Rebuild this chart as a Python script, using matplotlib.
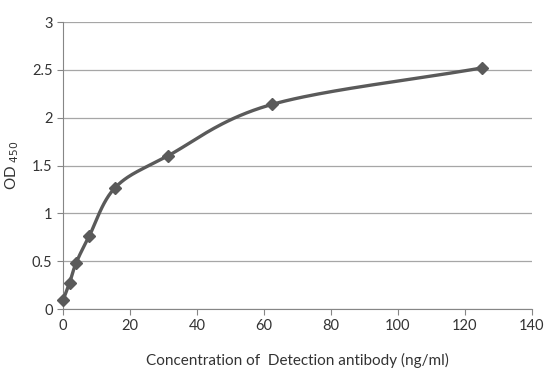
import numpy as np
import matplotlib.pyplot as plt

plt.rcParams['font.family'] = ['Lato', 'DejaVu Sans']

# 数据
conc = [0, 1.95, 3.9, 7.8, 15.6, 31.25, 62.5, 125]
od = [0.09, 0.27, 0.48, 0.76, 1.27, 1.60, 2.14, 2.52]

fig = plt.figure(figsize=(5.51, 3.80), dpi=100)
ax = fig.add_axes([0.1143, 0.1868, 0.8512, 0.7552])
ax.set_xlim(0, 140)
ax.set_ylim(0, 3)

# 平滑曲线 (Catmull-Rom，按屏幕比例计算)
W, H = 469.0, 287.0
px = np.array(conc) / 140 * W
py = np.array(od) / 3 * H
P = np.column_stack([px, py])
P = np.vstack([P[0] - (P[1] - P[0]), P, P[-1] + (P[-1] - P[-2])])
curve = []
for i in range(1, len(P) - 2):
    p0, p1, p2, p3 = P[i - 1], P[i], P[i + 1], P[i + 2]
    t = np.linspace(0, 1, 40)[:, None]
    seg = 0.5 * ((2 * p1) + (-p0 + p2) * t + (2 * p0 - 5 * p1 + 4 * p2 - p3) * t ** 2
                 + (-p0 + 3 * p1 - 3 * p2 + p3) * t ** 3)
    curve.append(seg)
curve = np.vstack(curve)
ax.plot(curve[:, 0] / W * 140, curve[:, 1] / H * 3, color='#5a5a5a', lw=2.4, zorder=3, clip_on=False)
ax.plot(conc, od, linestyle='none', marker='D', ms=6.5, color='#5a5a5a', zorder=4, clip_on=False)

ax.set_xticks(range(0, 141, 20))
ax.set_yticks([0, 0.5, 1, 1.5, 2, 2.5, 3])
ax.set_yticklabels(['0', '0.5', '1', '1.5', '2', '2.5', '3'])
ax.yaxis.grid(True, color='#a6a6a6', lw=0.9)
ax.set_axisbelow(True)
for s in ['top', 'right']:
    ax.spines[s].set_visible(False)
ax.spines['left'].set_color('#868686')
ax.spines['bottom'].set_color('#868686')
ax.tick_params(axis='x', length=4, colors='#868686', labelsize=10.5, labelcolor='#333333')
ax.tick_params(axis='y', length=4, colors='#868686', labelsize=10.5, labelcolor='#333333')

ax.set_xlabel('Concentration of  Detection antibody (ng/ml)', fontsize=11, color='#333333', labelpad=14)
ax.set_ylabel('OD$_{\\ 450}$', fontsize=11, color='#333333', labelpad=8)

fig.savefig('out.png', dpi=100)
plt.close()
